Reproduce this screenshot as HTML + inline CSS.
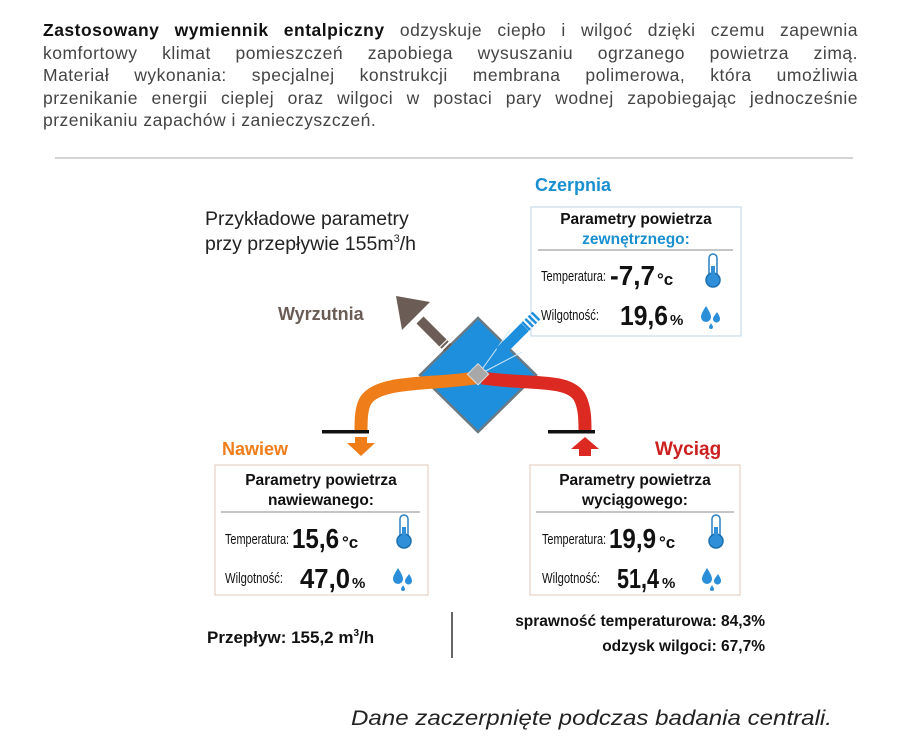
<!DOCTYPE html>
<html><head><meta charset="utf-8"><style>
html,body{margin:0;padding:0;background:#fff;width:902px;height:750px;overflow:hidden}
#p{position:absolute;left:43px;top:19px;width:815px;font-family:"Liberation Sans",sans-serif;font-size:17.5px;line-height:22.6px;color:#444;letter-spacing:0.5px;white-space:nowrap}
#p div{text-align:justify;text-align-last:justify}
#p div.last{text-align-last:left}
#p b{color:#111}
svg{position:absolute;left:0;top:0}
</style></head><body>
<div id="p">
<div><b>Zastosowany wymiennik entalpiczny</b> odzyskuje ciepło i wilgoć dzięki czemu zapewnia</div>
<div>komfortowy klimat pomieszczeń zapobiega wysuszaniu ogrzanego powietrza zimą.</div>
<div>Materiał wykonania: specjalnej konstrukcji membrana polimerowa, która umożliwia</div>
<div>przenikanie energii cieplej oraz wilgoci w postaci pary wodnej zapobiegając jednocześnie</div>
<div class="last">przenikaniu zapachów i zanieczyszczeń.</div>
</div>
<svg width="902" height="750" font-family="Liberation Sans, sans-serif">
<defs>
<g id="therm"><rect x="-4" y="-18" width="8" height="24" rx="4" fill="#fff" stroke="#2a7fc0" stroke-width="1.5"/><circle cx="0" cy="8" r="7" fill="#2f8fd8" stroke="#1d6fb0" stroke-width="1.5"/><rect x="-2" y="-6" width="4" height="12" fill="#2f8fd8"/></g>
<g id="drops"><path d="M0,-9 C3,-4 5,-1 5,2 A5,5 0 0 1 -5,2 C-5,-1 -3,-4 0,-9Z" fill="#2a8fd8"/><path d="M11,-3 C13,0 14,2 14,4 A3.5,3.5 0 0 1 7,4 C7,2 9,0 11,-3Z" fill="#2a8fd8"/><path d="M5,8 C6,10 7,11 7,12 A2,2 0 0 1 3,12 C3,11 4,10 5,8Z" fill="#2a8fd8"/></g>
</defs>
<line x1="55" y1="158" x2="853" y2="158" stroke="#aaa" stroke-width="1"/>
<text x="535" y="191" font-size="18" font-weight="bold" fill="#1a8fd0">Czerpnia</text>
<text x="205" y="225" font-size="19.5" fill="#222">Przykładowe parametry</text>
<text x="205" y="250" font-size="19.5" fill="#222">przy przepływie 155m<tspan font-size="11" dy="-8">3</tspan><tspan dy="8">/h</tspan></text>
<text x="278" y="320" font-size="18" font-weight="bold" fill="#6b5d55">Wyrzutnia</text>
<rect x="531" y="207" width="210" height="129" fill="#fff" stroke="#bcd3e6"/>
<text x="636" y="224" font-size="15.5" font-weight="bold" text-anchor="middle" fill="#111">Parametry powietrza</text>
<text x="636" y="244" font-size="15.5" font-weight="bold" text-anchor="middle" fill="#1a8fd0">zewnętrznego:</text>
<line x1="538" y1="250" x2="733" y2="250" stroke="#888"/>
<text x="541" y="281" font-size="15" textLength="65" lengthAdjust="spacingAndGlyphs" fill="#111">Temperatura:</text>
<text x="610" y="285" font-size="28" font-weight="bold" textLength="45" lengthAdjust="spacingAndGlyphs" fill="#111">-7,7</text><text x="657" y="285" font-size="17" font-weight="bold" fill="#111">°c</text>
<use href="#therm" x="713" y="272"/>
<text x="541" y="320" font-size="15" textLength="58" lengthAdjust="spacingAndGlyphs" fill="#111">Wilgotność:</text>
<text x="620" y="325" font-size="28" font-weight="bold" textLength="48" lengthAdjust="spacingAndGlyphs" fill="#111">19,6</text><text x="670" y="325" font-size="15" font-weight="bold" fill="#111">%</text>
<use href="#drops" x="706" y="315"/>

<rect x="215" y="465" width="213" height="130" fill="#fff" stroke="#e0c9b8"/>
<text x="321" y="485" font-size="15.5" font-weight="bold" text-anchor="middle" fill="#111">Parametry powietrza</text>
<text x="321" y="505" font-size="15.5" font-weight="bold" text-anchor="middle" fill="#111">nawiewanego:</text>
<line x1="221" y1="512" x2="420" y2="512" stroke="#888"/>
<text x="225" y="544" font-size="15" textLength="64" lengthAdjust="spacingAndGlyphs" fill="#111">Temperatura:</text>
<text x="292" y="548" font-size="28" font-weight="bold" textLength="47" lengthAdjust="spacingAndGlyphs" fill="#111">15,6</text><text x="342" y="548" font-size="17" font-weight="bold" fill="#111">°c</text>
<use href="#therm" x="404" y="533"/>
<text x="225" y="583" font-size="15" textLength="58" lengthAdjust="spacingAndGlyphs" fill="#111">Wilgotność:</text>
<text x="300" y="588" font-size="28" font-weight="bold" textLength="50" lengthAdjust="spacingAndGlyphs" fill="#111">47,0</text><text x="352" y="588" font-size="15" font-weight="bold" fill="#111">%</text>
<use href="#drops" x="398" y="577"/>

<rect x="530" y="465" width="210" height="130" fill="#fff" stroke="#e0c9b8"/>
<text x="635" y="485" font-size="15.5" font-weight="bold" text-anchor="middle" fill="#111">Parametry powietrza</text>
<text x="635" y="505" font-size="15.5" font-weight="bold" text-anchor="middle" fill="#111">wyciągowego:</text>
<line x1="536" y1="512" x2="734" y2="512" stroke="#888"/>
<text x="542" y="544" font-size="15" textLength="64" lengthAdjust="spacingAndGlyphs" fill="#111">Temperatura:</text>
<text x="609" y="548" font-size="28" font-weight="bold" textLength="47" lengthAdjust="spacingAndGlyphs" fill="#111">19,9</text><text x="659" y="548" font-size="17" font-weight="bold" fill="#111">°c</text>
<use href="#therm" x="716" y="533"/>
<text x="542" y="583" font-size="15" textLength="58" lengthAdjust="spacingAndGlyphs" fill="#111">Wilgotność:</text>
<text x="617" y="588" font-size="28" font-weight="bold" textLength="42" lengthAdjust="spacingAndGlyphs" fill="#111">51,4</text><text x="662" y="588" font-size="15" font-weight="bold" fill="#111">%</text>
<use href="#drops" x="707" y="577"/>

<polygon points="478,318 536,375 478,432 420,375" fill="#1e8fdc" stroke="#6a7a85" stroke-width="2.5"/>
<line x1="478" y1="375" x2="510" y2="330" stroke="#cfe8f8" stroke-width="1"/>
<line x1="478" y1="375" x2="522" y2="352" stroke="#cfe8f8" stroke-width="1"/>
<line x1="443" y1="343" x2="420" y2="320" stroke="#6b5d55" stroke-width="10"/>
<line x1="448" y1="348" x2="440" y2="340" stroke="#6b5d55" stroke-width="10" stroke-dasharray="2,2"/>
<polygon points="396,296 430,302 402,330" fill="#6b5d55"/>
<line x1="500" y1="352" x2="525" y2="327" stroke="#1e8fdc" stroke-width="11"/>
<line x1="522" y1="330" x2="537" y2="315" stroke="#1e8fdc" stroke-width="11" stroke-dasharray="2.5,2"/>
<path d="M475,378 C430,385 380,380 366,400 C361,408 361,420 361,432" fill="none" stroke="#ee7d1a" stroke-width="13"/>
<path d="M482,378 C530,385 570,378 580,398 C585,408 585,420 585,432" fill="none" stroke="#dc2a22" stroke-width="13"/>
<rect x="470" y="367" width="15" height="15" fill="#a8a8a8" transform="rotate(45 478 375)" stroke="#ddd"/>
<rect x="322" y="430" width="47" height="3.5" fill="#111"/>
<rect x="548" y="430" width="47" height="3.5" fill="#111"/>
<rect x="355" y="437" width="12" height="6" fill="#ee7d1a"/>
<polygon points="347,443 375,443 361,456" fill="#ee7d1a"/>
<polygon points="571,449 599,449 585,437" fill="#dc2a22"/>
<rect x="579" y="449" width="12" height="7" fill="#dc2a22"/>
<text x="222" y="455" font-size="18" font-weight="bold" fill="#ee7d1a">Nawiew</text>
<text x="655" y="455" font-size="19" font-weight="bold" fill="#cc1f1f">Wyciąg</text>
<text x="207" y="643" font-size="17" font-weight="bold" fill="#111">Przepływ:  155,2 m<tspan font-size="10" dy="-7">3</tspan><tspan dy="7">/h</tspan></text>
<line x1="452" y1="612" x2="452" y2="658" stroke="#333" stroke-width="1.5"/>
<text x="765" y="626" font-size="15.5" font-weight="bold" text-anchor="end" fill="#111">sprawność temperaturowa: 84,3%</text>
<text x="765" y="651" font-size="15.5" font-weight="bold" text-anchor="end" fill="#111">odzysk wilgoci: 67,7%</text>
<text x="351" y="725" font-size="21" font-style="italic" textLength="481" lengthAdjust="spacingAndGlyphs" fill="#222">Dane zaczerpnięte podczas badania centrali.</text>
</svg>
</body></html>
